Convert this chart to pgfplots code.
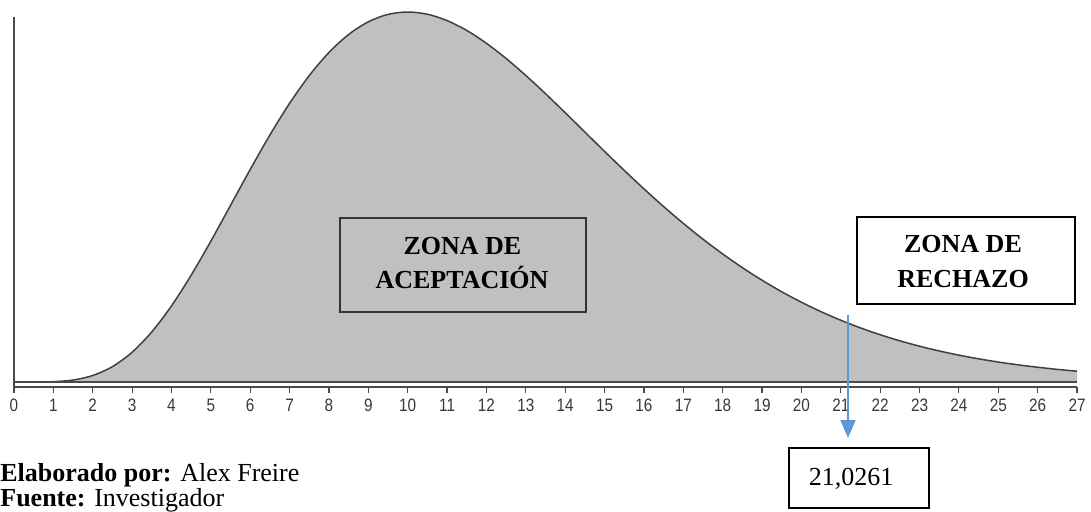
\documentclass[border=0pt]{standalone}
\usepackage{fontspec}
\setmainfont{Liberation Serif}
\newfontfamily\arialfont{Liberation Sans}
\usepackage{pgfplots}
\pgfplotsset{compat=1.18}
\usepackage{pgfplotstable}
\usetikzlibrary{arrows.meta}

\definecolor{areagray}{HTML}{C0C0C0}
\definecolor{curvegray}{HTML}{404040}
\definecolor{axisgray}{HTML}{4A4A4A}
\definecolor{arrowblue}{HTML}{5B9BD5}

% chi-square density, 12 degrees of freedom
\pgfplotstableread{
x y
0 0
0.5 0.0000032
1 0.0000790
1.5 0.000467
2 0.001533
2.5 0.003643
3 0.007060
3.5 0.011884
4 0.018045
4.5 0.025324
5 0.033401
5.5 0.041893
6 0.050409
6.5 0.058579
7 0.066084
7.5 0.072668
8 0.078148
8.5 0.082409
9 0.085413
9.5 0.087168
10 0.087733
10.5 0.087205
11 0.085701
11.5 0.083356
12 0.080313
12.5 0.076711
13 0.072683
13.5 0.068365
14 0.063858
14.5 0.059271
15 0.054686
15.5 0.050178
16 0.045801
16.5 0.041604
17 0.037617
17.5 0.033865
18 0.030364
18.5 0.027119
19 0.024133
19.5 0.021402
20 0.018917
20.5 0.016668
21 0.014643
21.5 0.012828
22 0.011208
22.5 0.009766
23 0.008490
23.5 0.007363
24 0.006370
24.5 0.005500
25 0.004739
25.5 0.004074
26 0.003497
26.5 0.002996
27 0.002562
}\chisq

\begin{document}
\begin{tikzpicture}
\begin{axis}[
  scale only axis,
  width=531.5pt, height=185pt,
  xmin=0, xmax=27, ymin=-0.001186, ymax=0.08655,
  axis lines=left,
  axis line style={-, draw=axisgray, line width=1pt},
  xtick={0,...,27}, ytick=\empty,
  tick align=outside,
  major tick length=2.8pt,
  tick style={axisgray, line width=0.6pt},
  xticklabel style={font=\arialfont\fontsize{9}{10}\selectfont, text=black!78,
    inner sep=1pt, xscale=0.85, yshift=-2.2pt},
  /pgf/number format/assume math mode=true,
  clip=false,
]
\addplot[draw=none, fill=areagray] table {\chisq} \closedcycle;
\addplot[curvegray, line width=0.75pt, smooth] table {\chisq};
\addplot[axisgray, line width=0.7pt] coordinates {(0,0) (27,0)};
\end{axis}

% annotations, in pixels of the 1091x511 frame
\begin{scope}[x=0.5pt, y=-0.5pt, shift={(-7pt,193.5pt)}]
\path (0,0) rectangle (1091,511);
\draw[black!80, line width=0.65pt] (340,218) rectangle (586,312);
\node[anchor=base, inner sep=0, font=\bfseries\fontsize{13}{15}\selectfont] at (462.5,255) {ZONA DE};
\node[anchor=base, inner sep=0, font=\bfseries\fontsize{13}{15}\selectfont] at (462,289) {ACEPTACIÓN};
\draw[black, line width=0.65pt, fill=white] (857,217) rectangle (1075,304);
\node[anchor=base, inner sep=0, font=\bfseries\fontsize{13}{15}\selectfont] at (963,253) {ZONA DE};
\node[anchor=base, inner sep=0, font=\bfseries\fontsize{13}{15}\selectfont] at (963,288) {RECHAZO};
\draw[arrowblue, line width=1pt, -{Triangle[width=7.5pt,length=9pt]}] (848,315) -- (848,438);
\draw[black, line width=0.65pt, fill=white] (789,448) rectangle (929,508);
\node[anchor=base, inner sep=0, font=\fontsize{13}{15}\selectfont] at (851,485) {21,0261};
\node[anchor=base west, inner sep=0, font=\fontsize{13}{15}\selectfont] at (0,481) {\textbf{Elaborado por:} Alex Freire};
\node[anchor=base west, inner sep=0, font=\fontsize{13}{15}\selectfont] at (0,506) {\textbf{Fuente:} Investigador};
\end{scope}
\end{tikzpicture}
\end{document}
